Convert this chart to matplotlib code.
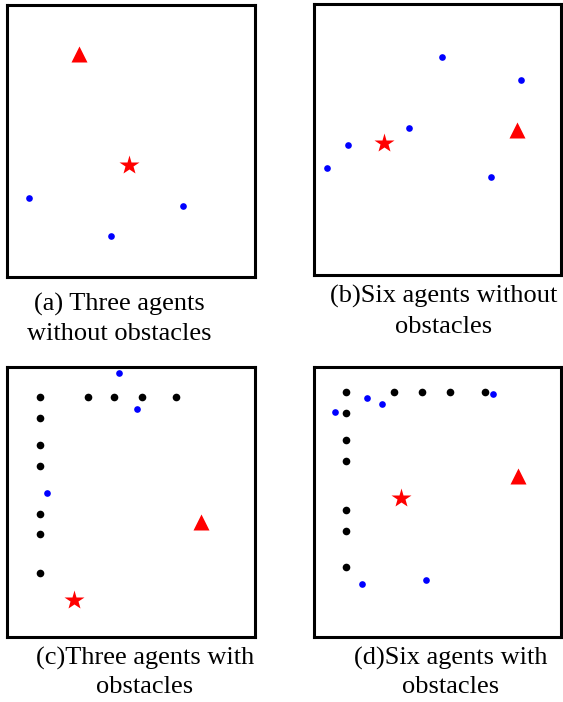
"""Agent / obstacle layouts for the four test scenarios, one panel each."""

import matplotlib.pyplot as plt

W, H, DPI = 563, 702, 100

RED   = "#FF0000"
BLUE  = "#0000FF"
BLACK = "#000000"

# ── Scenario data (normalised arena coordinates, origin bottom-left) ─────────
# (a) three agents, no obstacles
a_agents_x = [0.09, 0.42, 0.71]
a_agents_y = [0.29, 0.15, 0.26]
a_target   = (0.49, 0.41)
a_goal     = (0.29, 0.82)

# (b) six agents, no obstacles
b_agents_x = [0.52, 0.84, 0.385, 0.138, 0.053, 0.717]
b_agents_y = [0.806, 0.72, 0.544, 0.481, 0.394, 0.363]
b_target   = (0.283, 0.488)
b_goal     = (0.821, 0.535)

# (c) three agents with obstacles
c_obs_x    = [0.133] * 7 + [0.325, 0.433, 0.543, 0.680]
c_obs_y    = [0.889, 0.812, 0.711, 0.634, 0.457, 0.380, 0.237,
              0.889, 0.889, 0.889, 0.889]
c_agents_x = [0.452, 0.526, 0.163]
c_agents_y = [0.977, 0.844, 0.535]
c_target   = (0.270, 0.137)
c_goal     = (0.784, 0.425)

# (d) six agents with obstacles
d_obs_x    = [0.128] * 7 + [0.325, 0.439, 0.552, 0.694]
d_obs_y    = [0.909, 0.831, 0.728, 0.651, 0.469, 0.391, 0.259,
              0.909, 0.909, 0.909, 0.909]
d_agents_x = [0.085, 0.216, 0.275, 0.726, 0.194, 0.452]
d_agents_y = [0.835, 0.886, 0.862, 0.900, 0.196, 0.210]
d_target   = (0.351, 0.514)
d_goal     = (0.826, 0.598)

captions = [
    ["(a) Three agents", "without obstacles"],
    ["(b)Six agents without", "obstacles"],
    ["(c)Three agents with", "obstacles"],
    ["(d)Six agents with", "obstacles"],
]

# panel boxes in pixels: left, top, right, bottom
boxes = [(7, 5, 255, 277), (314, 4, 561, 275),
         (7, 367, 255, 637), (314, 367, 561, 637)]
# caption centre x and baselines in pixels
cap_pos = [(119, 311, 340), (444, 303, 333),
           (145, 665, 693), (451, 665, 693)]


def add_panel(fig, box):
    l, t, r, b = box
    ax = fig.add_axes([l / W, 1 - b / H, (r - l) / W, (b - t) / H])
    ax.set_xlim(0, 1)
    ax.set_ylim(0, 1)
    ax.set_xticks([])
    ax.set_yticks([])
    for sp in ax.spines.values():
        sp.set_linewidth(2.2)
        sp.set_color(BLACK)
    return ax


def draw_scene(ax, agents_x, agents_y, target, goal, obs_x=None, obs_y=None):
    if obs_x is not None:
        ax.plot(obs_x, obs_y, "o", color=BLACK, ms=5.5, mec="none", clip_on=False)
    ax.plot(agents_x, agents_y, "o", color=BLUE, ms=4.8, mec="none", clip_on=False)
    ax.plot(*target, "*", color=RED, ms=14.5, mec="none")
    ax.plot(*goal, "^", color=RED, ms=11, mec="none")


fig = plt.figure(figsize=(W / DPI, H / DPI), dpi=DPI)
fig.patch.set_facecolor("white")

axes = [add_panel(fig, bx) for bx in boxes]
draw_scene(axes[0], a_agents_x, a_agents_y, a_target, a_goal)
draw_scene(axes[1], b_agents_x, b_agents_y, b_target, b_goal)
draw_scene(axes[2], c_agents_x, c_agents_y, c_target, c_goal, c_obs_x, c_obs_y)
draw_scene(axes[3], d_agents_x, d_agents_y, d_target, d_goal, d_obs_x, d_obs_y)

for (cx, y1, y2), lines in zip(cap_pos, captions):
    for y, txt in zip((y1, y2), lines):
        fig.text(cx / W, 1 - y / H, txt, ha="center", va="baseline",
                 fontsize=19, family="Liberation Serif", color=BLACK)

fig.savefig("out.png", dpi=DPI, facecolor="white")
